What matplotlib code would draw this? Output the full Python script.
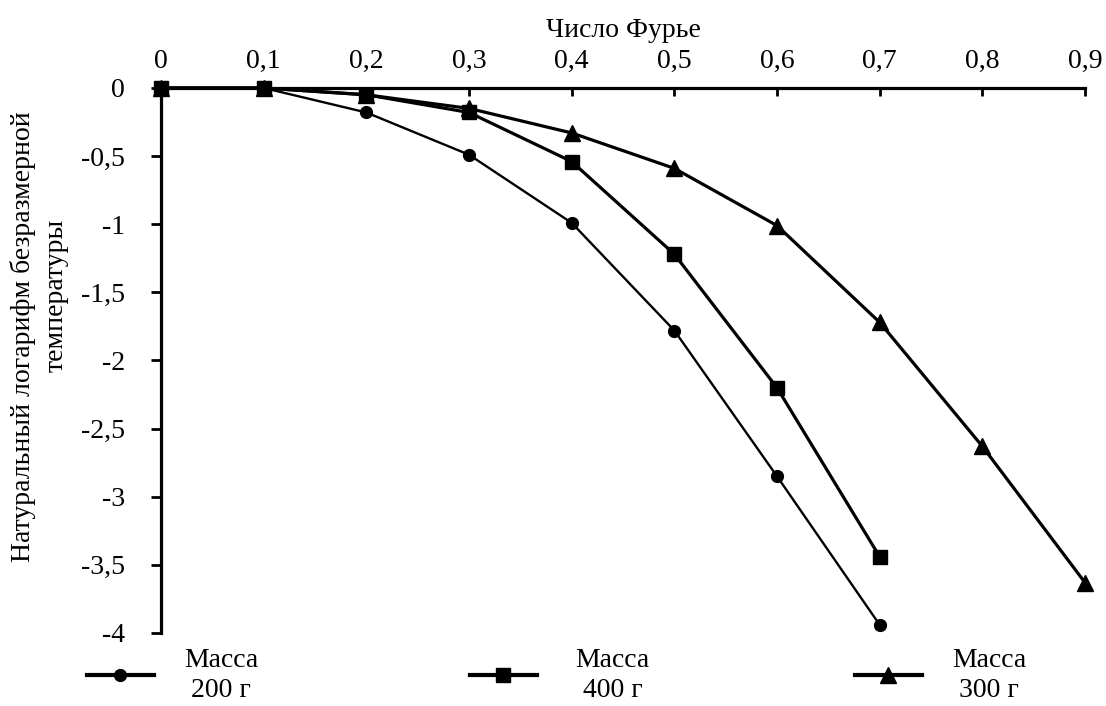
import numpy as np
import matplotlib.pyplot as plt

plt.rcParams['font.family'] = ['Liberation Serif', 'DejaVu Serif']

# данные
fourier_200 = [0, 0.1, 0.2, 0.3, 0.4, 0.5, 0.6, 0.7]
lnT_200 = [0, 0, -0.18, -0.49, -0.99, -1.78, -2.85, -3.94]

fourier_400 = [0, 0.1, 0.2, 0.3, 0.4, 0.5, 0.6, 0.7]
lnT_400 = [0, 0, -0.05, -0.18, -0.54, -1.22, -2.2, -3.44]

fourier_300 = [0, 0.1, 0.2, 0.3, 0.4, 0.5, 0.6, 0.7, 0.8, 0.9]
lnT_300 = [0, 0, -0.05, -0.15, -0.33, -0.59, -1.01, -1.72, -2.63, -3.63]

labels = ["Масса\n200 г", "Масса\n400 г", "Масса\n300 г"]

x_ticks = [0, 0.1, 0.2, 0.3, 0.4, 0.5, 0.6, 0.7, 0.8, 0.9]
x_ticklabels = ["0", "0,1", "0,2", "0,3", "0,4", "0,5", "0,6", "0,7", "0,8", "0,9"]
y_ticks = [0, -0.5, -1, -1.5, -2, -2.5, -3, -3.5, -4]
y_ticklabels = ["0", "-0,5", "-1", "-1,5", "-2", "-2,5", "-3", "-3,5", "-4"]

FS = 20

fig = plt.figure(figsize=(11.06, 7.06), dpi=100)
ax = fig.add_axes([0.1456, 0.1034, 0.8354, 0.7720])

l1, = ax.plot(fourier_200, lnT_200, color='black', lw=1.7, marker='o', ms=8.5, clip_on=False, zorder=3)
l2, = ax.plot(fourier_400, lnT_400, color='black', lw=2.3, marker='s', ms=10, clip_on=False, zorder=4)
l3, = ax.plot(fourier_300, lnT_300, color='black', lw=2.3, marker='^', ms=11, clip_on=False, zorder=3)

ax.set_xlim(0, 0.9)
ax.set_ylim(-4, 0)

ax.xaxis.tick_top()
ax.xaxis.set_label_position('top')
ax.set_xticks(x_ticks)
ax.set_xticklabels(x_ticklabels, fontsize=FS)
ax.set_yticks(y_ticks)
ax.set_yticklabels(y_ticklabels, fontsize=FS)
ax.tick_params(axis='x', direction='in', length=6, width=2, pad=10)
ax.tick_params(axis='y', direction='out', length=7, width=2, pad=19)

ax.spines['bottom'].set_visible(False)
ax.spines['right'].set_visible(False)
ax.spines['top'].set_linewidth(2.3)
ax.spines['left'].set_linewidth(2.3)

ax.set_xlabel("Число Фурье", fontsize=FS, labelpad=9)
ax.set_ylabel("Натуральный логарифм безразмерной", fontsize=FS, va='center')
ax.yaxis.set_label_coords(-0.1493, 0.543)
ax.text(-0.1136, 0.62, "температуры", fontsize=FS, rotation=90,
        ha='center', va='center', transform=ax.transAxes)

# три отдельные записи легенды под графиком
handle_x = [87 / 1106, 470 / 1106, 855 / 1106]
pads = [1.1, 1.4, 1.1]
for line, text, hx, pad in zip([l1, l2, l3], labels, handle_x, pads):
    leg = fig.legend([line], [text], loc='center left', bbox_to_anchor=(hx, 0.043),
                     frameon=False, fontsize=FS, handlelength=2.4, handletextpad=pad,
                     borderpad=0, borderaxespad=0, numpoints=1)
    for t in leg.get_texts():
        t.set_multialignment('center')
        t.set_linespacing(1.3)
    for h in leg.legend_handles:
        h.set_linewidth(3)

plt.savefig("out.png", dpi=100)
